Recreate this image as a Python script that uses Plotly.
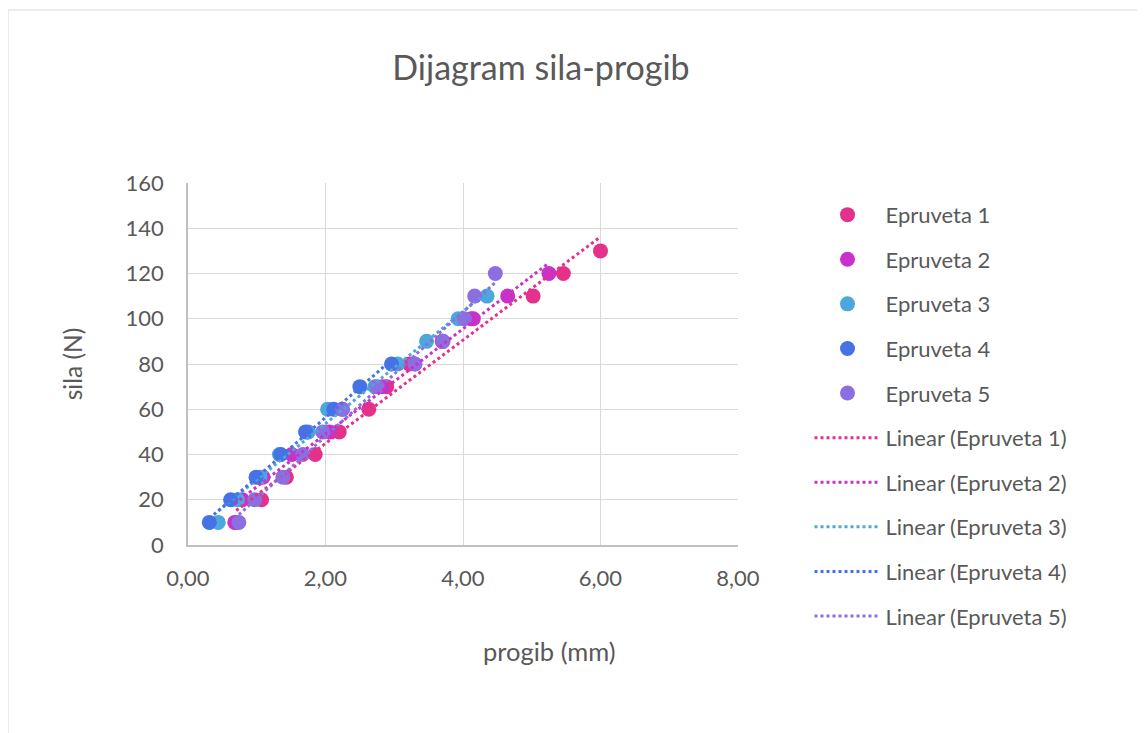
import numpy as np
import plotly.graph_objects as go

# ---- data ----
names = ["Epruveta 1", "Epruveta 2", "Epruveta 3", "Epruveta 4", "Epruveta 5"]
ep1_x = [0.70, 1.07, 1.43, 1.85, 2.20, 2.63, 2.89, 3.22, 3.70, 4.12, 5.02, 5.46, 6.00]
ep1_y = [10, 20, 30, 40, 50, 60, 70, 80, 90, 100, 110, 120, 130]
ep2_x = [0.68, 0.79, 1.09, 1.51, 2.06, 2.24, 2.83, 3.30, 3.70, 4.15, 4.65, 5.25]
ep2_y = [10, 20, 30, 40, 50, 60, 70, 80, 90, 100, 110, 120]
ep3_x = [0.44, 0.72, 1.05, 1.33, 1.75, 2.03, 2.72, 3.05, 3.47, 3.93, 4.35]
ep3_y = [10, 20, 30, 40, 50, 60, 70, 80, 90, 100, 110]
ep4_x = [0.31, 0.62, 0.99, 1.35, 1.71, 2.12, 2.50, 2.96]
ep4_y = [10, 20, 30, 40, 50, 60, 70, 80]
ep5_x = [0.74, 0.97, 1.38, 1.67, 1.96, 2.25, 2.75, 3.30, 3.71, 4.02, 4.17, 4.47]
ep5_y = [10, 20, 30, 40, 50, 60, 70, 80, 90, 100, 110, 120]

x_ticks = [0, 2, 4, 6, 8]
x_tick_labels = ["0,00", "2,00", "4,00", "6,00", "8,00"]
y_ticks = [0, 20, 40, 60, 80, 100, 120, 140, 160]

colors = ["#E4318C", "#C832C8", "#4DA6DC", "#4672E6", "#8B6FE0"]

series = [(ep1_x, ep1_y), (ep2_x, ep2_y), (ep3_x, ep3_y), (ep4_x, ep4_y), (ep5_x, ep5_y)]

FONT = "Lato"
TXT = "#595959"

fig = go.Figure()
for i, (xs, ys) in enumerate(series):
    fig.add_trace(go.Scatter(
        x=xs, y=ys, mode="markers", name=names[i],
        legendgroup=f"m{i}",
        marker=dict(size=15, color=colors[i], line=dict(width=0)),
    ))
for i, (xs, ys) in enumerate(series):
    a, b = np.polyfit(xs, ys, 1)
    lx = [min(xs), max(xs)]
    ly = [a * v + b for v in lx]
    fig.add_trace(go.Scatter(
        x=lx, y=ly, mode="lines", name=f"Linear ({names[i]})",
        legendgroup=f"l{i}",
        line=dict(color=colors[i], width=3, dash="dot"),
    ))

# page has an 8px body margin, so the figure is laid out 8px smaller
W, H = 1137, 725
L, T = 180, 175
PW, PH = 550, 362

fig.update_layout(
    width=W, height=H,
    paper_bgcolor="white", plot_bgcolor="white",
    margin=dict(l=L, r=W - L - PW, t=T, b=H - T - PH, autoexpand=False),
    font=dict(family=FONT, color=TXT, size=22),
    title=dict(text="Dijagram sila-progib", x=(541 - 8) / W, xanchor="center",
               y=(H - 60) / H, yanchor="middle",
               font=dict(family=FONT, size=34, color=TXT)),
    showlegend=True,
    legend=dict(x=1.13, xanchor="left", y=0.97, yanchor="top", maxheight=700,
                traceorder="grouped", tracegroupgap=13, itemwidth=66,
                font=dict(family=FONT, size=22, color=TXT),
                bgcolor="rgba(0,0,0,0)"),
    xaxis=dict(range=[0, 8], tickvals=x_ticks, ticktext=x_tick_labels,
               showgrid=True, gridcolor="#D9D9D9", gridwidth=1,
               showline=True, linecolor="#BFBFBF", linewidth=1.5,
               zeroline=False, ticks="", ticklabelstandoff=13),
    yaxis=dict(range=[0, 160], tickvals=y_ticks,
               showgrid=True, gridcolor="#D9D9D9", gridwidth=1,
               showline=True, linecolor="#BFBFBF", linewidth=1.5,
               zeroline=False, ticks="", ticklabelstandoff=18,
               title=dict(text="sila (N)", standoff=36,
                          font=dict(family=FONT, size=24.5, color=TXT))),
    annotations=[dict(text="progib (mm)", xref="paper", yref="paper",
                      x=(549 - 188) / PW, y=(545 - 651) / PH,
                      xanchor="center", yanchor="middle", showarrow=False,
                      font=dict(family=FONT, size=25.5, color=TXT))],
    shapes=[dict(type="rect", xref="paper", yref="paper",
                 x0=(0 - L) / PW, x1=(1131 - L) / PW,
                 y0=(T + PH - 760) / PH, y1=(T + PH - 2) / PH,
                 line=dict(color="#D9D9D9", width=1), fillcolor="rgba(0,0,0,0)",
                 layer="below")],
)

fig.write_html("out.html")
